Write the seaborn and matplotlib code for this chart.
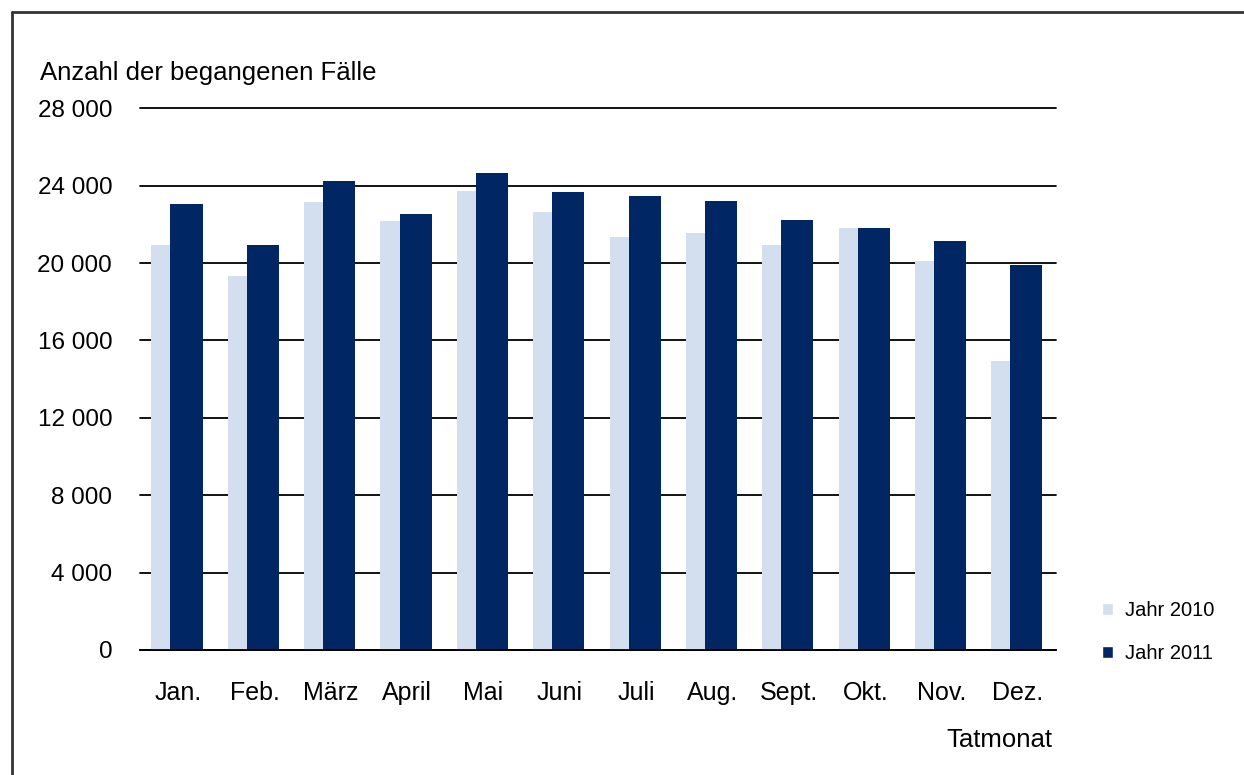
import numpy as np
import pandas as pd
import seaborn as sns
from matplotlib import pyplot as plt
from matplotlib.lines import Line2D
from matplotlib.ticker import FuncFormatter

months = ['Jan.', 'Feb.', 'März', 'April', 'Mai', 'Juni', 'Juli', 'Aug.', 'Sept.', 'Okt.', 'Nov.', 'Dez.']
cases2010 = [20930, 19340, 23130, 22150, 23730, 22630, 21340, 21540, 20930, 21830, 20130, 14920]
cases2011 = [23050, 20930, 24240, 22540, 24630, 23650, 23440, 23220, 22240, 21830, 21130, 19910]
years = ['Jahr 2010', 'Jahr 2011']
colors = ['#D3DEEE', '#002663']

df = pd.DataFrame({
    'Monat': months * 2,
    'Faelle': cases2010 + cases2011,
    'Jahr': [years[0]] * len(months) + [years[1]] * len(months),
})

sns.set_theme(style='white')
plt.rcParams['font.family'] = ['Liberation Sans', 'DejaVu Sans']
plt.rcParams['text.color'] = 'black'

fig = plt.figure(figsize=(12.44, 7.75), dpi=100)
ax = fig.add_axes([0.1125, 0.1613, 0.7365, 0.699])

sns.barplot(data=df, x='Monat', y='Faelle', hue='Jahr', palette=colors,
            order=months, hue_order=years, saturation=1, width=0.8, ax=ax,
            zorder=2)

# Excel-like overlapping bars: dark series partly covers the light one
barWidth = 0.42
offsets = [-0.35, -0.10]
for container, off in zip(ax.containers, offsets):
    for i, patch in enumerate(container.patches):
        patch.set_x(i + off)
        patch.set_width(barWidth)
        patch.set_linewidth(0)

ax.set_xlim(-0.5, len(months) - 0.5)
ax.set_ylim(0, 28000)
ax.set_yticks(np.arange(0, 28001, 4000))
ax.yaxis.set_major_formatter(FuncFormatter(lambda v, p: f"{int(v):,}".replace(',', ' ')))
ax.grid(axis='y', color='black', linewidth=1.3, zorder=0)
for gl in ax.get_ygridlines():
    gl.set_clip_on(False)
ax.set_axisbelow(True)
for side in ['top', 'right', 'left']:
    ax.spines[side].set_visible(False)
ax.spines['bottom'].set_color('black')
ax.spines['bottom'].set_linewidth(1.3)
ax.spines['bottom'].set_zorder(3)
ax.tick_params(axis='y', length=0, pad=20, labelsize=17.5, labelcolor='black')
ax.tick_params(axis='x', length=0, pad=22, labelsize=18, labelcolor='black')
ax.set_xlabel('')
ax.set_ylabel('')

fig.text(40 / 1244, 1 - 73 / 775, 'Anzahl der begangenen Fälle', fontsize=18.5,
         ha='left', va='center', color='black')
fig.text(1052 / 1244, 1 - 740 / 775, 'Tatmonat', fontsize=18.5,
         ha='right', va='center', color='black')

leg = ax.legend(loc='center left', bbox_to_anchor=(1084 / 1244, 1 - 632 / 775),
                bbox_transform=fig.transFigure, frameon=False, fontsize=14.5,
                handlelength=0.55, handleheight=0.55, handletextpad=0.6,
                labelspacing=1.2)
for t in leg.get_texts():
    t.set_color('black')

# outer frame (left and top edges)
fig.add_artist(Line2D([12 / 1244, 12 / 1244], [0, 1 - 12 / 775], color='#333333', linewidth=2))
fig.add_artist(Line2D([12 / 1244, 1], [1 - 12 / 775, 1 - 12 / 775], color='#333333', linewidth=2))

plt.savefig('out.png', dpi=100)
